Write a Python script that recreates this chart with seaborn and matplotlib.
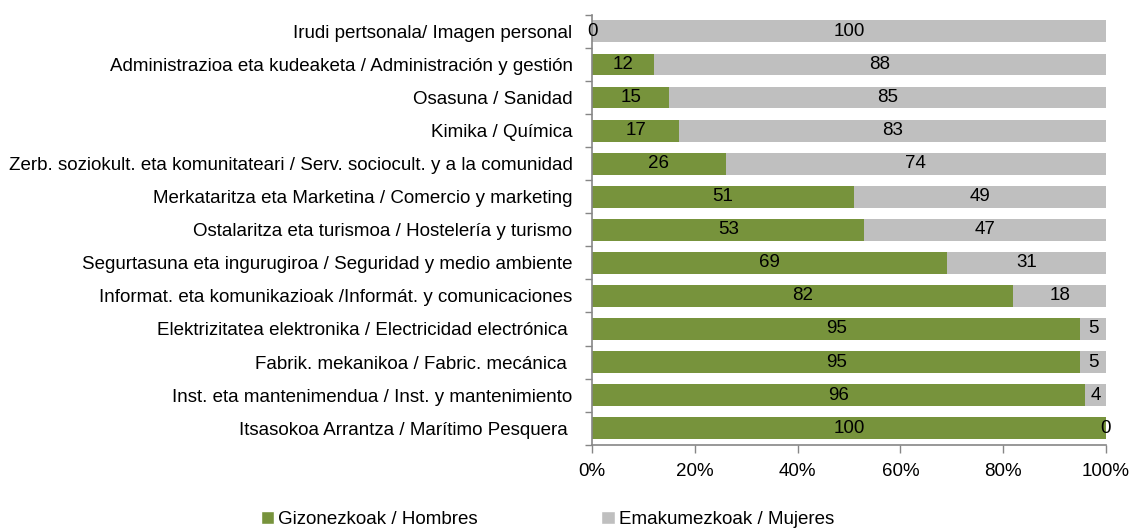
import numpy as np
import pandas as pd
import matplotlib
matplotlib.use('Agg')
import matplotlib.pyplot as plt
import seaborn as sns
from matplotlib.patches import Patch

# data (percent)
categories = [
    "Irudi pertsonala/ Imagen personal",
    "Administrazioa eta kudeaketa / Administración y gestión",
    "Osasuna / Sanidad",
    "Kimika / Química",
    "Zerb. soziokult. eta komunitateari / Serv. sociocult. y a la comunidad",
    "Merkataritza eta Marketina / Comercio y marketing",
    "Ostalaritza eta turismoa / Hostelería y turismo",
    "Segurtasuna eta ingurugiroa / Seguridad y medio ambiente",
    "Informat. eta komunikazioak /Informát. y comunicaciones",
    "Elektrizitatea elektronika / Electricidad electrónica ",
    "Fabrik. mekanikoa / Fabric. mecánica ",
    "Inst. eta mantenimendua / Inst. y mantenimiento",
    "Itsasokoa Arrantza / Marítimo Pesquera ",
]
hombres = [0, 12, 15, 17, 26, 51, 53, 69, 82, 95, 95, 96, 100]
mujeres = [100, 88, 85, 83, 74, 49, 47, 31, 18, 5, 5, 4, 0]

green = "#77933C"
grey = "#BFBFBF"
axis_col = "#868686"

df = pd.DataFrame({"cat": categories, "hombres": hombres, "mujeres": mujeres})
df["total"] = df["hombres"] + df["mujeres"]

sns.set_style("white")
plt.rcParams['font.family'] = ['Liberation Sans', 'DejaVu Sans']
plt.rcParams['text.color'] = 'black'
plt.rcParams['xtick.color'] = 'black'
plt.rcParams['ytick.color'] = 'black'

fig = plt.figure(figsize=(11.37, 5.31), dpi=100)
ax = fig.add_axes([0.5207, 0.1625, 0.452, 0.8095])

# grey = full stack, green drawn over it
sns.barplot(data=df, x="total", y="cat", color=grey, width=0.66, saturation=1, linewidth=0, ax=ax)
sns.barplot(data=df, x="hombres", y="cat", color=green, width=0.66, saturation=1, linewidth=0, ax=ax)

fs = 13.5
for i, row in df.iterrows():
    ax.text(row["hombres"] / 2, i, f"{row['hombres']}", ha="center", va="center", fontsize=fs)
    ax.text(row["hombres"] + row["mujeres"] / 2, i, f"{row['mujeres']}", ha="center", va="center", fontsize=fs)

ax.set_xlim(0, 100)
ax.set_ylim(len(categories) - 0.5, -0.5)
ax.set_xticks(np.arange(0, 101, 20))
ax.set_xticklabels([f"{v}%" for v in range(0, 101, 20)], fontsize=fs)
ax.set_yticklabels(categories, fontsize=fs)
ax.set_xlabel("")
ax.set_ylabel("")

# tick marks between categories on y
ax.set_yticks(np.arange(-0.5, len(categories)), minor=True)
ax.tick_params(axis="y", which="major", length=0, pad=14)
ax.tick_params(axis="y", which="minor", length=5, color=axis_col, width=1, direction="out", left=True)
ax.tick_params(axis="x", which="major", length=6, color=axis_col, width=1, direction="out", bottom=True, pad=7)

for s in ["top", "right"]:
    ax.spines[s].set_visible(False)
for s in ["left", "bottom"]:
    ax.spines[s].set_color(axis_col)
    ax.spines[s].set_linewidth(1.2)

handles = [Patch(facecolor=green, label="Gizonezkoak / Hombres"),
           Patch(facecolor=grey, label="Emakumezkoak / Mujeres")]
fig.legend(handles=handles, loc="lower left", bbox_to_anchor=(0.2145, -0.026), ncol=2, frameon=False,
           fontsize=fs, handlelength=0.72, handleheight=0.72, handletextpad=0.2, columnspacing=6.6)

fig.savefig("out.png", dpi=100)
